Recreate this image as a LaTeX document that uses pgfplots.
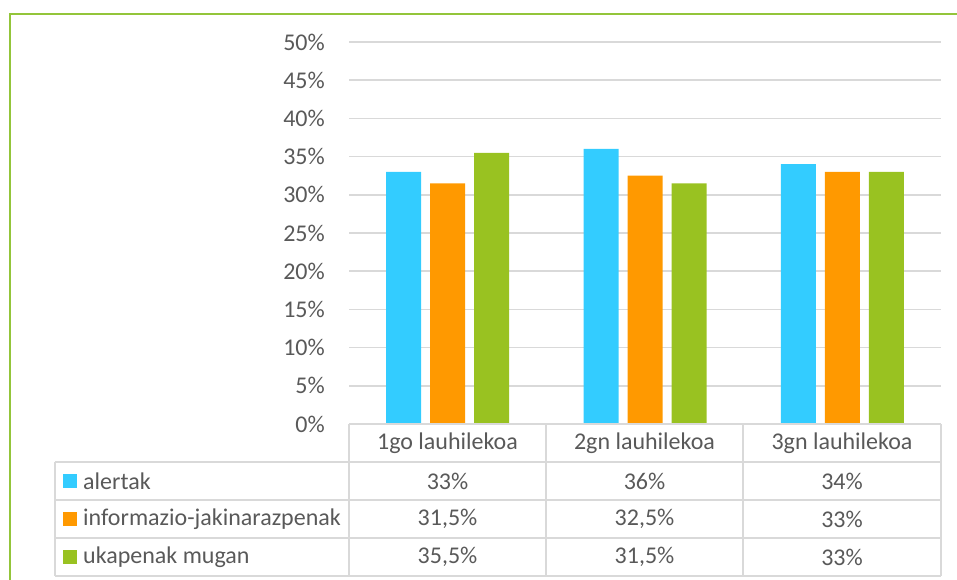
\documentclass[border=0pt]{standalone}
\usepackage{pgfplots}
\pgfplotsset{compat=1.18}
\usepackage{fontspec}
\setmainfont{Carlito}
\definecolor{cblue}{HTML}{33CCFF}
\definecolor{corange}{HTML}{FF9900}
\definecolor{cgreen}{HTML}{99C221}
\definecolor{txtgray}{HTML}{595959}
\definecolor{gridgray}{HTML}{D9D9D9}
\definecolor{framegreen}{HTML}{93C53A}
\begin{document}
\begin{tikzpicture}[font=\fontsize{24}{28}\selectfont]
\useasboundingbox (-349pt,-155pt) rectangle (608pt,424pt);
% frame
\draw[framegreen, line width=2.5pt] (-339pt,-160pt) -- (-339pt,410pt) -- (615pt,410pt);
\begin{axis}[
  at={(0pt,0pt)}, anchor=south west,
  scale only axis, width=592pt, height=382pt,
  ymin=0, ymax=50, ytick={0,5,...,50},
  xmin=-0.5, xmax=2.5, xtick=\empty,
  ybar=9pt, bar width=35pt,
  axis line style={draw=none},
  ymajorgrids, grid style={gridgray, line width=1.6pt},
  major tick length=0pt,
  /pgf/number format/assume math mode=true,
  yticklabel={\pgfmathprintnumber{\tick}\%},
  yticklabel style={text=txtgray, font=\fontsize{24}{28}\selectfont, inner sep=0pt, xshift=-24pt},
  clip=false,
]
\addplot[fill=cblue, draw=none] coordinates {(0,33) (1,36) (2,34)};
\addplot[fill=corange, draw=none] coordinates {(0,31.5) (1,32.5) (2,33)};
\addplot[fill=cgreen, draw=none] coordinates {(0,35.5) (1,31.5) (2,33)};
\end{axis}
% table grid
\begin{scope}[gridgray, line width=1.8pt]
\draw (0pt,0pt) -- (592pt,0pt);
\draw (-294pt,-38pt) -- (592pt,-38pt);
\draw (-294pt,-76pt) -- (592pt,-76pt);
\draw (-294pt,-114pt) -- (592pt,-114pt);
\draw (-294pt,-152pt) -- (592pt,-152pt);
\draw (-294pt,-38pt) -- (-294pt,-152pt);
\draw (0pt,0pt) -- (0pt,-152pt);
\draw (197pt,0pt) -- (197pt,-152pt);
\draw (394pt,0pt) -- (394pt,-152pt);
\draw (592pt,0pt) -- (592pt,-152pt);
\end{scope}
\begin{scope}[text=txtgray]
\node at (98.5pt,-19pt) {1go lauhilekoa};
\node at (295.5pt,-19pt) {2gn lauhilekoa};
\node at (493pt,-19pt) {3gn lauhilekoa};
\node at (98.5pt,-57pt) {33\%};
\node at (295.5pt,-57pt) {36\%};
\node at (493pt,-57pt) {34\%};
\node at (98.5pt,-95pt) {31,5\%};
\node at (295.5pt,-95pt) {32,5\%};
\node at (493pt,-95pt) {33\%};
\node at (98.5pt,-133pt) {35,5\%};
\node at (295.5pt,-133pt) {31,5\%};
\node at (493pt,-133pt) {33\%};
\node[anchor=west, inner sep=0pt] at (-266pt,-57pt) {alertak};
\node[anchor=west, inner sep=0pt] at (-266pt,-95pt) {informazio-jakinarazpenak};
\node[anchor=west, inner sep=0pt] at (-266pt,-133pt) {ukapenak mugan};
\end{scope}
\fill[cblue] (-286pt,-64pt) rectangle (-272pt,-50pt);
\fill[corange] (-286pt,-102pt) rectangle (-272pt,-88pt);
\fill[cgreen] (-286pt,-140pt) rectangle (-272pt,-126pt);
\end{tikzpicture}
\end{document}
